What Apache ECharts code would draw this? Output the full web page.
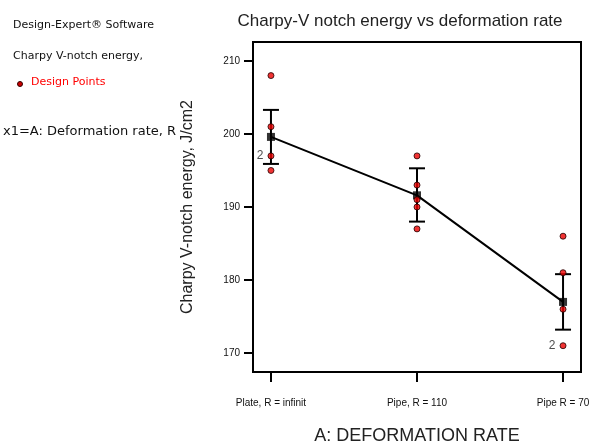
<!DOCTYPE html>
<html>
<head>
<meta charset="utf-8">
<script src="https://cdn.jsdelivr.net/npm/echarts@6/dist/echarts.min.js"></script>
<style>
  html, body { margin: 0; padding: 0; background: #fff; }
  #chart { width: 593px; height: 443px; }
</style>
</head>
<body>
<div id="chart"></div>
<script>
// categories of factor A
const categories = ['Plate, R = infinit', 'Pipe, R = 110', 'Pipe R = 70'];
// design points (x index, energy, replicate count)
const designPoints = [
  [0, 208, 1], [0, 201, 1], [0, 197, 2], [0, 195, 1],
  [1, 197, 1], [1, 193, 1], [1, 191, 1], [1, 190, 1], [1, 187, 1],
  [2, 186, 1], [2, 181, 1], [2, 176, 1], [2, 171, 2]
];
// predicted means and LSD bars
const means = [199.6, 191.6, 177.0];
const barLow = [195.9, 188.0, 173.2];
const barHigh = [203.3, 195.3, 180.8];
const yTicks = [170, 180, 190, 200, 210];

const chart = echarts.init(document.getElementById('chart'));
const font = 'Liberation Sans, Arial, sans-serif';
const wide = 'DejaVu Sans, sans-serif';

const option = {
  backgroundColor: '#fff',
  animation: false,
  title: {
    text: 'Charpy-V notch energy vs deformation rate',
    left: 395, top: 8, textAlign: 'center',
    textStyle: { fontFamily: font, fontSize: 17, fontWeight: 'normal', color: '#222' }
  },
  graphic: [
    { type: 'text', left: 13, top: 20, style: { text: 'Design-Expert\u00AE Software', font: '11px ' + wide, fill: '#111' } },
    { type: 'text', left: 13, top: 51, style: { text: 'Charpy V-notch energy,', font: '11px ' + wide, fill: '#111' } },
    { type: 'circle', shape: { cx: 20, cy: 84, r: 2.5 }, style: { fill: '#c00', stroke: '#300', lineWidth: 1 } },
    { type: 'text', left: 31, top: 77, style: { text: 'Design Points', font: '11px ' + wide, fill: '#f00' } },
    { type: 'text', left: 3, top: 125, style: { text: 'x1=A: Deformation rate, R', font: '13px ' + wide, fill: '#111' } }
  ],
  grid: {
    left: 253, top: 42, width: 328, height: 330,
    outerBoundsMode: 'none',
    show: true, borderColor: '#000', borderWidth: 2
  },
  xAxis: {
    type: 'value', min: -0.123, max: 2.123,
    name: 'A: DEFORMATION RATE', nameLocation: 'middle', nameGap: 55,
    nameTextStyle: { fontFamily: font, fontSize: 18, color: '#222' },
    axisLine: { show: true, onZero: false, lineStyle: { color: '#000', width: 2 } },
    axisTick: { show: true, length: 10, customValues: [0, 1, 2], lineStyle: { color: '#000', width: 2 } },
    axisLabel: {
      customValues: [0, 1, 2], margin: 26,
      formatter: v => categories[Math.round(v)],
      fontFamily: font, fontSize: 10, color: '#111'
    },
    splitLine: { show: false }
  },
  yAxis: {
    type: 'value', min: 167.4, max: 212.6,
    name: 'Charpy V-notch energy, J/cm2', nameLocation: 'middle', nameGap: 57,
    nameTextStyle: { fontFamily: font, fontSize: 16, color: '#222' },
    axisLine: { show: true, onZero: false, lineStyle: { color: '#000', width: 2 } },
    axisTick: { show: true, length: 9, customValues: yTicks, lineStyle: { color: '#000', width: 2 } },
    axisLabel: {
      customValues: yTicks, margin: 13,
      fontFamily: font, fontSize: 10, color: '#111'
    },
    splitLine: { show: false }
  },
  series: [
    {
      type: 'line',
      data: means.map((m, i) => [i, m]),
      symbol: 'none',
      lineStyle: { color: '#000', width: 2 },
      z: 2
    },
    {
      type: 'custom',
      data: means.map((m, i) => [i, barLow[i], barHigh[i]]),
      renderItem: (params, api) => {
        const x = api.coord([api.value(0), 0])[0];
        const lo = api.coord([0, api.value(1)])[1];
        const hi = api.coord([0, api.value(2)])[1];
        const hw = 8;
        const st = { stroke: '#000', lineWidth: 2 };
        return {
          type: 'group',
          children: [
            { type: 'line', shape: { x1: x, y1: lo, x2: x, y2: hi }, style: st },
            { type: 'line', shape: { x1: x - hw, y1: lo, x2: x + hw, y2: lo }, style: st },
            { type: 'line', shape: { x1: x - hw, y1: hi, x2: x + hw, y2: hi }, style: st }
          ]
        };
      },
      z: 3
    },
    {
      type: 'scatter',
      data: means.map((m, i) => [i, m]),
      symbol: 'rect', symbolSize: 8,
      itemStyle: { color: '#000' },
      z: 4
    },
    {
      type: 'scatter',
      data: designPoints,
      symbol: 'circle', symbolSize: 6,
      itemStyle: { color: '#e00', borderColor: '#200', borderWidth: 1 },
      label: {
        show: true, position: 'left', distance: 4,
        formatter: p => (p.value[2] > 1 ? String(p.value[2]) : ''),
        fontFamily: font, fontSize: 12, color: '#222'
      },
      z: 5
    }
  ]
};

chart.setOption(option);
</script>
</body>
</html>
